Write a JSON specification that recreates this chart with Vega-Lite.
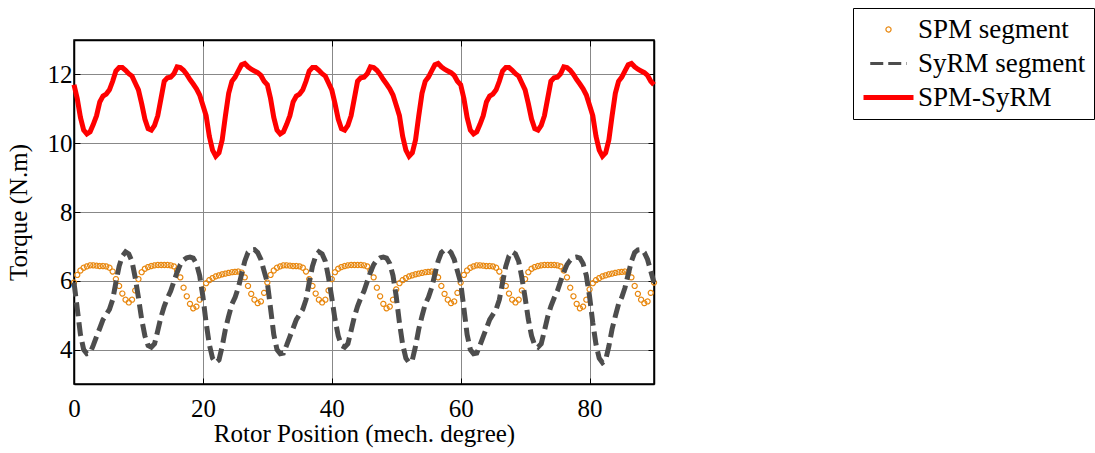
{
"$schema": "https://vega.github.io/schema/vega-lite/v6.json",
"autosize": {"type": "none"},
"width": 580,
"height": 344,
"padding": {"left": 74, "top": 40, "right": 441, "bottom": 69},
"background": "white",
"config": {
  "view": {"stroke": "black", "strokeWidth": 1.5},
  "font": "Liberation Serif",
  "axis": {"labelFont": "Liberation Serif", "titleFont": "Liberation Serif", "labelFontSize": 25, "titleFontSize": 25, "labelColor": "black", "titleColor": "black", "titleFontWeight": "normal", "domainColor": "black", "domainWidth": 1.5, "tickColor": "black", "tickWidth": 1, "gridColor": "#888888", "gridWidth": 1, "gridOpacity": 1}
},
"data": {"values": [
{"x":0,"spm":5.95,"syrm":5.95,"tot":11.7},{"x":0.5,"spm":6.17,"syrm":5.2,"tot":11.3},{"x":1,"spm":6.3,"syrm":4.44,"tot":10.75},{"x":1.5,"spm":6.38,"syrm":4.0,"tot":10.38},{"x":2,"spm":6.42,"syrm":3.88,"tot":10.27},{"x":2.5,"spm":6.45,"syrm":3.9,"tot":10.33},{"x":3,"spm":6.45,"syrm":4.13,"tot":10.55},{"x":3.5,"spm":6.44,"syrm":4.38,"tot":10.8},{"x":4,"spm":6.43,"syrm":4.62,"tot":11.2},{"x":4.5,"spm":6.43,"syrm":4.87,"tot":11.37},
{"x":5,"spm":6.42,"syrm":5.02,"tot":11.43},{"x":5.5,"spm":6.38,"syrm":5.17,"tot":11.55},{"x":6,"spm":6.27,"syrm":5.45,"tot":11.8},{"x":6.5,"spm":6.05,"syrm":5.95,"tot":12.1},{"x":7,"spm":5.85,"syrm":6.42,"tot":12.2},{"x":7.5,"spm":5.63,"syrm":6.72,"tot":12.2},{"x":8,"spm":5.45,"syrm":6.84,"tot":12.12},{"x":8.5,"spm":5.37,"syrm":6.78,"tot":12.02},{"x":9,"spm":5.45,"syrm":6.57,"tot":11.95},{"x":9.5,"spm":5.72,"syrm":6.09,"tot":11.75},
{"x":10,"spm":6.05,"syrm":5.51,"tot":11.55},{"x":10.5,"spm":6.25,"syrm":4.88,"tot":11.15},{"x":11,"spm":6.35,"syrm":4.4,"tot":10.7},{"x":11.5,"spm":6.4,"syrm":4.12,"tot":10.42},{"x":12,"spm":6.43,"syrm":4.07,"tot":10.38},{"x":12.5,"spm":6.45,"syrm":4.17,"tot":10.52},{"x":13,"spm":6.46,"syrm":4.55,"tot":10.8},{"x":13.5,"spm":6.46,"syrm":4.95,"tot":11.3},{"x":14,"spm":6.46,"syrm":5.26,"tot":11.8},{"x":14.5,"spm":6.46,"syrm":5.5,"tot":11.9},
{"x":15,"spm":6.45,"syrm":5.7,"tot":11.92},{"x":15.5,"spm":6.42,"syrm":5.98,"tot":12.02},{"x":16,"spm":6.3,"syrm":6.25,"tot":12.22},{"x":16.5,"spm":6.1,"syrm":6.47,"tot":12.2},{"x":17,"spm":5.8,"syrm":6.6,"tot":12.12},{"x":17.5,"spm":5.55,"syrm":6.67,"tot":12.0},{"x":18,"spm":5.33,"syrm":6.69,"tot":11.85},{"x":18.5,"spm":5.2,"syrm":6.66,"tot":11.72},{"x":19,"spm":5.25,"syrm":6.5,"tot":11.58},{"x":19.5,"spm":5.45,"syrm":6.15,"tot":11.4},
{"x":20,"spm":5.75,"syrm":5.55,"tot":11.1},{"x":20.5,"spm":5.93,"syrm":4.78,"tot":10.8},{"x":21,"spm":6.02,"syrm":4.15,"tot":10.2},{"x":21.5,"spm":6.08,"syrm":3.75,"tot":9.8},{"x":22,"spm":6.13,"syrm":3.62,"tot":9.62},{"x":22.5,"spm":6.16,"syrm":3.7,"tot":9.72},{"x":23,"spm":6.19,"syrm":4.1,"tot":10.1},{"x":23.5,"spm":6.21,"syrm":4.6,"tot":10.8},{"x":24,"spm":6.23,"syrm":4.97,"tot":11.45},{"x":24.5,"spm":6.25,"syrm":5.32,"tot":11.8},
{"x":25,"spm":6.26,"syrm":5.52,"tot":11.92},{"x":25.5,"spm":6.27,"syrm":5.8,"tot":12.1},{"x":26,"spm":6.24,"syrm":6.19,"tot":12.28},{"x":26.5,"spm":6.1,"syrm":6.57,"tot":12.32},{"x":27,"spm":5.85,"syrm":6.82,"tot":12.22},{"x":27.5,"spm":5.62,"syrm":6.9,"tot":12.15},{"x":28,"spm":5.45,"syrm":6.91,"tot":12.1},{"x":28.5,"spm":5.35,"syrm":6.82,"tot":12.05},{"x":29,"spm":5.4,"syrm":6.62,"tot":11.97},{"x":29.5,"spm":5.65,"syrm":6.28,"tot":11.8},
{"x":30,"spm":5.95,"syrm":5.95,"tot":11.7},{"x":30.5,"spm":6.17,"syrm":5.2,"tot":11.3},{"x":31,"spm":6.3,"syrm":4.44,"tot":10.75},{"x":31.5,"spm":6.38,"syrm":4.0,"tot":10.38},{"x":32,"spm":6.42,"syrm":3.88,"tot":10.27},{"x":32.5,"spm":6.45,"syrm":3.9,"tot":10.33},{"x":33,"spm":6.45,"syrm":4.13,"tot":10.55},{"x":33.5,"spm":6.44,"syrm":4.38,"tot":10.8},{"x":34,"spm":6.43,"syrm":4.62,"tot":11.2},{"x":34.5,"spm":6.43,"syrm":4.87,"tot":11.37},
{"x":35,"spm":6.42,"syrm":5.02,"tot":11.43},{"x":35.5,"spm":6.38,"syrm":5.17,"tot":11.55},{"x":36,"spm":6.27,"syrm":5.45,"tot":11.8},{"x":36.5,"spm":6.05,"syrm":5.95,"tot":12.1},{"x":37,"spm":5.85,"syrm":6.42,"tot":12.2},{"x":37.5,"spm":5.63,"syrm":6.72,"tot":12.2},{"x":38,"spm":5.45,"syrm":6.84,"tot":12.12},{"x":38.5,"spm":5.37,"syrm":6.78,"tot":12.02},{"x":39,"spm":5.45,"syrm":6.57,"tot":11.95},{"x":39.5,"spm":5.72,"syrm":6.09,"tot":11.75},
{"x":40,"spm":6.05,"syrm":5.51,"tot":11.55},{"x":40.5,"spm":6.25,"syrm":4.88,"tot":11.15},{"x":41,"spm":6.35,"syrm":4.4,"tot":10.7},{"x":41.5,"spm":6.4,"syrm":4.12,"tot":10.42},{"x":42,"spm":6.43,"syrm":4.07,"tot":10.38},{"x":42.5,"spm":6.45,"syrm":4.17,"tot":10.52},{"x":43,"spm":6.46,"syrm":4.55,"tot":10.8},{"x":43.5,"spm":6.46,"syrm":4.95,"tot":11.3},{"x":44,"spm":6.46,"syrm":5.26,"tot":11.8},{"x":44.5,"spm":6.46,"syrm":5.5,"tot":11.9},
{"x":45,"spm":6.45,"syrm":5.7,"tot":11.92},{"x":45.5,"spm":6.42,"syrm":5.98,"tot":12.02},{"x":46,"spm":6.3,"syrm":6.25,"tot":12.22},{"x":46.5,"spm":6.1,"syrm":6.47,"tot":12.2},{"x":47,"spm":5.8,"syrm":6.6,"tot":12.12},{"x":47.5,"spm":5.55,"syrm":6.67,"tot":12.0},{"x":48,"spm":5.33,"syrm":6.69,"tot":11.85},{"x":48.5,"spm":5.2,"syrm":6.66,"tot":11.72},{"x":49,"spm":5.25,"syrm":6.5,"tot":11.58},{"x":49.5,"spm":5.45,"syrm":6.15,"tot":11.4},
{"x":50,"spm":5.75,"syrm":5.55,"tot":11.1},{"x":50.5,"spm":5.93,"syrm":4.78,"tot":10.8},{"x":51,"spm":6.02,"syrm":4.15,"tot":10.2},{"x":51.5,"spm":6.08,"syrm":3.75,"tot":9.8},{"x":52,"spm":6.13,"syrm":3.62,"tot":9.62},{"x":52.5,"spm":6.16,"syrm":3.7,"tot":9.72},{"x":53,"spm":6.19,"syrm":4.1,"tot":10.1},{"x":53.5,"spm":6.21,"syrm":4.6,"tot":10.8},{"x":54,"spm":6.23,"syrm":4.97,"tot":11.45},{"x":54.5,"spm":6.25,"syrm":5.32,"tot":11.8},
{"x":55,"spm":6.26,"syrm":5.52,"tot":11.92},{"x":55.5,"spm":6.27,"syrm":5.8,"tot":12.1},{"x":56,"spm":6.24,"syrm":6.19,"tot":12.28},{"x":56.5,"spm":6.1,"syrm":6.57,"tot":12.32},{"x":57,"spm":5.85,"syrm":6.82,"tot":12.22},{"x":57.5,"spm":5.62,"syrm":6.9,"tot":12.15},{"x":58,"spm":5.45,"syrm":6.91,"tot":12.1},{"x":58.5,"spm":5.35,"syrm":6.82,"tot":12.05},{"x":59,"spm":5.4,"syrm":6.62,"tot":11.97},{"x":59.5,"spm":5.65,"syrm":6.28,"tot":11.8},
{"x":60,"spm":5.95,"syrm":5.95,"tot":11.7},{"x":60.5,"spm":6.17,"syrm":5.2,"tot":11.3},{"x":61,"spm":6.3,"syrm":4.44,"tot":10.75},{"x":61.5,"spm":6.38,"syrm":4.0,"tot":10.38},{"x":62,"spm":6.42,"syrm":3.88,"tot":10.27},{"x":62.5,"spm":6.45,"syrm":3.9,"tot":10.33},{"x":63,"spm":6.45,"syrm":4.13,"tot":10.55},{"x":63.5,"spm":6.44,"syrm":4.38,"tot":10.8},{"x":64,"spm":6.43,"syrm":4.62,"tot":11.2},{"x":64.5,"spm":6.43,"syrm":4.87,"tot":11.37},
{"x":65,"spm":6.42,"syrm":5.02,"tot":11.43},{"x":65.5,"spm":6.38,"syrm":5.17,"tot":11.55},{"x":66,"spm":6.27,"syrm":5.45,"tot":11.8},{"x":66.5,"spm":6.05,"syrm":5.95,"tot":12.1},{"x":67,"spm":5.85,"syrm":6.42,"tot":12.2},{"x":67.5,"spm":5.63,"syrm":6.72,"tot":12.2},{"x":68,"spm":5.45,"syrm":6.84,"tot":12.12},{"x":68.5,"spm":5.37,"syrm":6.78,"tot":12.02},{"x":69,"spm":5.45,"syrm":6.57,"tot":11.95},{"x":69.5,"spm":5.72,"syrm":6.09,"tot":11.75},
{"x":70,"spm":6.05,"syrm":5.51,"tot":11.55},{"x":70.5,"spm":6.25,"syrm":4.88,"tot":11.15},{"x":71,"spm":6.35,"syrm":4.4,"tot":10.7},{"x":71.5,"spm":6.4,"syrm":4.12,"tot":10.42},{"x":72,"spm":6.43,"syrm":4.07,"tot":10.38},{"x":72.5,"spm":6.45,"syrm":4.17,"tot":10.52},{"x":73,"spm":6.46,"syrm":4.55,"tot":10.8},{"x":73.5,"spm":6.46,"syrm":4.95,"tot":11.3},{"x":74,"spm":6.46,"syrm":5.26,"tot":11.8},{"x":74.5,"spm":6.46,"syrm":5.5,"tot":11.9},
{"x":75,"spm":6.45,"syrm":5.7,"tot":11.92},{"x":75.5,"spm":6.42,"syrm":5.98,"tot":12.02},{"x":76,"spm":6.3,"syrm":6.25,"tot":12.22},{"x":76.5,"spm":6.1,"syrm":6.47,"tot":12.2},{"x":77,"spm":5.8,"syrm":6.6,"tot":12.12},{"x":77.5,"spm":5.55,"syrm":6.67,"tot":12.0},{"x":78,"spm":5.33,"syrm":6.69,"tot":11.85},{"x":78.5,"spm":5.2,"syrm":6.66,"tot":11.72},{"x":79,"spm":5.25,"syrm":6.5,"tot":11.58},{"x":79.5,"spm":5.45,"syrm":6.15,"tot":11.4},
{"x":80,"spm":5.75,"syrm":5.55,"tot":11.1},{"x":80.5,"spm":5.93,"syrm":4.78,"tot":10.8},{"x":81,"spm":6.02,"syrm":4.15,"tot":10.2},{"x":81.5,"spm":6.08,"syrm":3.75,"tot":9.8},{"x":82,"spm":6.13,"syrm":3.62,"tot":9.62},{"x":82.5,"spm":6.16,"syrm":3.7,"tot":9.72},{"x":83,"spm":6.19,"syrm":4.1,"tot":10.1},{"x":83.5,"spm":6.21,"syrm":4.6,"tot":10.8},{"x":84,"spm":6.23,"syrm":4.97,"tot":11.45},{"x":84.5,"spm":6.25,"syrm":5.32,"tot":11.8},
{"x":85,"spm":6.26,"syrm":5.52,"tot":11.92},{"x":85.5,"spm":6.27,"syrm":5.8,"tot":12.1},{"x":86,"spm":6.24,"syrm":6.19,"tot":12.28},{"x":86.5,"spm":6.1,"syrm":6.57,"tot":12.32},{"x":87,"spm":5.85,"syrm":6.82,"tot":12.22},{"x":87.5,"spm":5.62,"syrm":6.9,"tot":12.15},{"x":88,"spm":5.45,"syrm":6.91,"tot":12.1},{"x":88.5,"spm":5.35,"syrm":6.82,"tot":12.05},{"x":89,"spm":5.4,"syrm":6.62,"tot":11.97},{"x":89.5,"spm":5.65,"syrm":6.28,"tot":11.8},
{"x":90,"spm":5.95,"syrm":5.95,"tot":11.7}
]},
"layer": [
  {
    "mark": {"type": "point", "filled": false, "opacity": 1},
    "encoding": {
      "x": {"field": "x", "type": "quantitative", "scale": {"domain": [0, 90], "nice": false, "zero": false},
            "axis": {"orient": "bottom", "values": [0, 20, 40, 60, 80], "grid": true, "tickSize": -6, "labelPadding": 18, "labelFlush": false, "title": "Rotor Position (mech. degree)", "titlePadding": 0}},
      "y": {"field": "spm", "type": "quantitative", "scale": {"domain": [3, 13], "nice": false, "zero": false},
            "axis": {"orient": "left", "values": [4, 6, 8, 10, 12], "grid": true, "tickSize": -6, "labelPadding": 8, "title": "Torque (N.m)", "titlePadding": 16}},
      "color": {"datum": "SPM segment", "type": "nominal",
        "scale": {"domain": ["SPM segment", "SyRM segment", "SPM-SyRM"], "range": ["#e8870e", "#4d4d4d", "#ff0000"]},
        "legend": {
          "orient": "none", "legendX": 779, "legendY": -32, "title": null,
          "strokeColor": "black", "padding": 8, "fillColor": "white",
          "labelFont": "Liberation Serif", "labelFontSize": 27, "labelColor": "black", "labelLimit": 400,
          "labelOffset": 16, "rowPadding": 6, "symbolOffset": 14
        }},
      "shape": {"datum": "SPM segment", "type": "nominal",
        "scale": {"domain": ["SPM segment", "SyRM segment", "SPM-SyRM"], "range": ["circle", "M-2.5,0H2.5", "M-2.5,0H2.5"]}},
      "size": {"datum": "SPM segment", "type": "nominal",
        "scale": {"domain": ["SPM segment", "SyRM segment", "SPM-SyRM"], "range": [26, 400, 400]}},
      "strokeWidth": {"datum": "SPM segment", "type": "nominal",
        "scale": {"domain": ["SPM segment", "SyRM segment", "SPM-SyRM"], "range": [1.2, 5, 5]}},
      "strokeDash": {"datum": "SPM segment", "type": "nominal",
        "scale": {"domain": ["SPM segment", "SyRM segment", "SPM-SyRM"], "range": [[1, 0], [13, 5], [1, 0]]}}
    }
  },
  {
    "mark": {"type": "line", "strokeDash": [14, 6], "strokeWidth": 5},
    "encoding": {
      "x": {"field": "x", "type": "quantitative", "axis": {"orient": "top", "values": [0, 20, 40, 60, 80], "labels": false, "grid": false, "tickSize": -6, "title": null}},
      "y": {"field": "syrm", "type": "quantitative", "axis": {"orient": "right", "values": [4, 6, 8, 10, 12], "labels": false, "grid": false, "tickSize": -6, "title": null}},
      "color": {"datum": "SyRM segment", "type": "nominal"}
    }
  },
  {
    "mark": {"type": "line", "strokeWidth": 5},
    "encoding": {
      "x": {"field": "x", "type": "quantitative", "axis": null},
      "y": {"field": "tot", "type": "quantitative", "axis": null},
      "color": {"datum": "SPM-SyRM", "type": "nominal"}
    }
  }
],
"resolve": {"axis": {"x": "independent", "y": "independent"}}
}
